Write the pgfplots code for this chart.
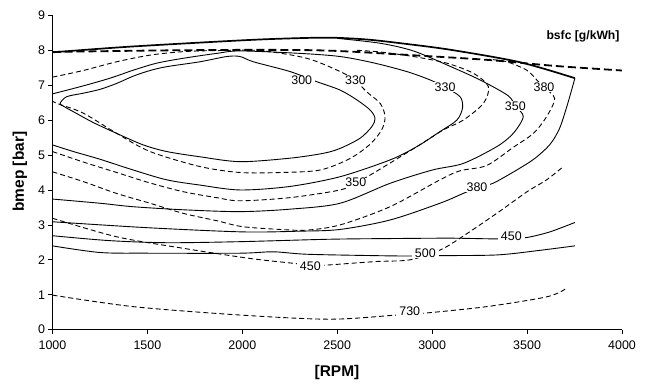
\documentclass[border=0pt]{standalone}
\usepackage{fontspec}
\setmainfont{Liberation Sans}
\usepackage{pgfplots}
\pgfplotsset{compat=1.18}
\tikzset{
  sl/.style={black, line width=0.9bp, smooth, tension=0.5},
  dl/.style={sl, dash pattern=on 5bp off 3bp},
  lab/.style={fill=white, inner xsep=3bp, inner ysep=0.5bp, font=\fontsize{12.5}{14}\selectfont},
}
\begin{document}
\begin{tikzpicture}
\begin{axis}[
  at={(0,0)}, anchor=south west,
  scale only axis, width=569.5bp, height=314.4bp,
  xmin=1000, xmax=4000, ymin=0, ymax=9,
  axis x line*=bottom, axis y line*=left,
  xtick={1000,1500,2000,2500,3000,3500,4000},
  xticklabels={1000,1500,2000,2500,3000,3500,4000},
  ytick={0,1,2,3,4,5,6,7,8,9},
  scaled ticks=false,
  tick align=outside, major tick length=4bp,
  tick style={black, line width=0.8bp},
  axis line style={black, line width=0.8bp},
  tick label style={font=\fontsize{12.5}{14}\selectfont},
  xticklabel style={yshift=-4bp},
  /pgf/number format/assume math mode=true,
  /pgf/number format/1000 sep={},
]
% full load (thick)
\addplot[black, line width=1.7bp, smooth, tension=0.5] coordinates {
(1000,7.94) (1400,8.10) (1950,8.27) (2200,8.33) (2450,8.36) (2650,8.31) (2850,8.19) (3100,8.01) (3460,7.66) (3752,7.20)};
\addplot[black, line width=1.8bp, dash pattern=on 8bp off 4bp, smooth, tension=0.5] coordinates {
(1000,7.95) (1500,7.99) (2000,8.01) (2450,7.99) (2950,7.84) (3300,7.72) (3650,7.55) (4000,7.42)};
% solid 300 (closed)
\addplot[sl, smooth cycle] coordinates {
(1040,6.48) (1075,6.67) (1162,6.77) (1250,6.88) (1338,7.05) (1426,7.26) (1514,7.42) (1602,7.53) (1777,7.67) (1918,7.82) (1988,7.82) (2058,7.67) (2251,7.39) (2392,7.10) (2515,6.86) (2603,6.58) (2673,6.29) (2699,6.05) (2682,5.81) (2620,5.48) (2515,5.19) (2427,5.05) (2251,4.91) (1988,4.81) (1777,4.95) (1602,5.10) (1478,5.29) (1338,5.62) (1215,5.93) (1110,6.24) (1057,6.40)};
% solid 330
\addplot[sl] coordinates {
(1000,6.75) (1162,6.98) (1303,7.20) (1426,7.43) (1549,7.63) (1689,7.77) (1865,7.91) (1988,7.98) (2304,7.91) (2515,7.82) (2690,7.64) (2866,7.39) (2989,7.15) (3068,6.94) (3147,6.67) (3160,6.35) (3130,6.00) (3041,5.67) (2919,5.24) (2778,4.86) (2515,4.38) (2250,4.10) (1988,4.00) (1777,4.14) (1602,4.29) (1426,4.57) (1250,4.88) (1110,5.10) (1000,5.29)};
% dashed 330
\addplot[dl] coordinates {
(1000,7.23) (1162,7.42) (1338,7.67) (1514,7.86) (1689,7.96) (1865,7.99) (2093,7.99) (2339,7.77) (2515,7.39) (2596,7.13) (2655,6.81) (2726,6.48) (2752,6.10) (2734,5.72) (2673,5.31) (2567,4.90) (2409,4.57) (2200,4.50) (1988,4.50) (1777,4.67) (1514,5.10) (1338,5.62) (1162,6.20) (1022,6.48) (1000,6.55)};
% solid 350
\addplot[sl] coordinates {
(2500,8.34) (2726,8.20) (2901,7.98) (3090,7.55) (3252,7.15) (3400,6.70) (3438,6.40) (3480,6.10) (3427,5.62) (3340,5.24) (3164,4.76) (3000,4.57) (2778,4.19) (2515,3.62) (2250,3.45) (1988,3.38) (1700,3.43) (1426,3.52) (1250,3.62) (1000,3.74)};
% dashed 350
\addplot[dl] coordinates {
(1000,5.10) (1162,4.80) (1338,4.50) (1514,4.20) (1689,3.95) (1865,3.78) (1988,3.69) (2250,3.78) (2515,4.00) (2598,4.21) (2690,4.48) (2919,5.24) (3059,5.72) (3164,6.00) (3270,6.48) (3296,6.96) (3217,7.34) (3077,7.63) (2901,7.82) (2726,7.95) (2600,8.00)};
% solid 380
\addplot[sl] coordinates {
(1000,3.09) (1500,2.92) (2000,2.80) (2300,2.82) (2515,2.87) (2778,3.14) (3041,3.62) (3163,3.90) (3236,4.06) (3320,4.19) (3445,4.57) (3540,4.90) (3620,5.30) (3670,5.75) (3709,6.38) (3752,7.20)};
% dashed 380
\addplot[dl] coordinates {
(1000,4.52) (1162,4.24) (1338,3.90) (1514,3.62) (1689,3.33) (1865,3.12) (2000,2.95) (2200,2.87) (2340,2.85) (2515,3.00) (2778,3.52) (3041,4.29) (3147,4.55) (3287,4.70) (3427,5.22) (3533,5.62) (3603,6.10) (3645,6.62) (3589,6.94) (3551,7.15) (3498,7.43) (3393,7.67) (3300,7.74)};
% solid 450
\addplot[sl] coordinates {
(1000,2.69) (1300,2.55) (1602,2.49) (1988,2.52) (2462,2.59) (2800,2.61) (3100,2.62) (3330,2.60) (3417,2.62) (3500,2.64) (3620,2.80) (3752,3.07)};
% dashed 450
\addplot[dl] coordinates {
(1000,3.19) (1338,2.66) (1689,2.33) (2040,2.04) (2270,1.90) (2358,1.84) (2444,1.85) (2700,1.95) (2883,2.00) (3041,2.28) (3147,2.62) (3340,3.33) (3500,3.95) (3603,4.29) (3691,4.67)};
% solid 500
\addplot[sl] coordinates {
(1000,2.40) (1250,2.21) (1500,2.19) (1988,2.19) (2163,2.23) (2339,2.16) (2700,2.12) (2866,2.11) (3041,2.12) (3340,2.14) (3550,2.26) (3752,2.40)};
% dashed 730
\addplot[dl] coordinates {
(1000,0.99) (1426,0.66) (1988,0.42) (2462,0.30) (2813,0.42) (2953,0.47) (3287,0.66) (3603,0.94) (3700,1.16)};
% contour labels
\node[lab] at (axis cs:2313,7.13) {300};
\node[lab] at (axis cs:2596,7.13) {330};
\node[lab] at (axis cs:3068,6.94) {330};
\node[lab] at (axis cs:3438,6.40) {350};
\node[lab] at (axis cs:3589,6.94) {380};
\node[lab] at (axis cs:2598,4.21) {350};
\node[lab] at (axis cs:3236,4.09) {380};
\node[lab] at (axis cs:3417,2.68) {450};
\node[lab] at (axis cs:2964,2.19) {500};
\node[lab] at (axis cs:2358,1.82) {450};
\node[lab] at (axis cs:2882,0.52) {730};
\end{axis}
\node[font=\bfseries\fontsize{12.2}{14}\selectfont] at (530.5bp,293.7bp) {bsfc [g/kWh]};
\node[font=\bfseries\fontsize{15.5}{18}\selectfont] at (284.5bp,-43.3bp) {[RPM]};
\node[font=\bfseries\fontsize{15.5}{18}\selectfont, rotate=90] at (-32.5bp,158bp) {bmep [bar]};
\pgfresetboundingbox
\path[use as bounding box] (-52.5bp,-55.3bp) rectangle (600.5bp,329.7bp);
\end{tikzpicture}
\end{document}
